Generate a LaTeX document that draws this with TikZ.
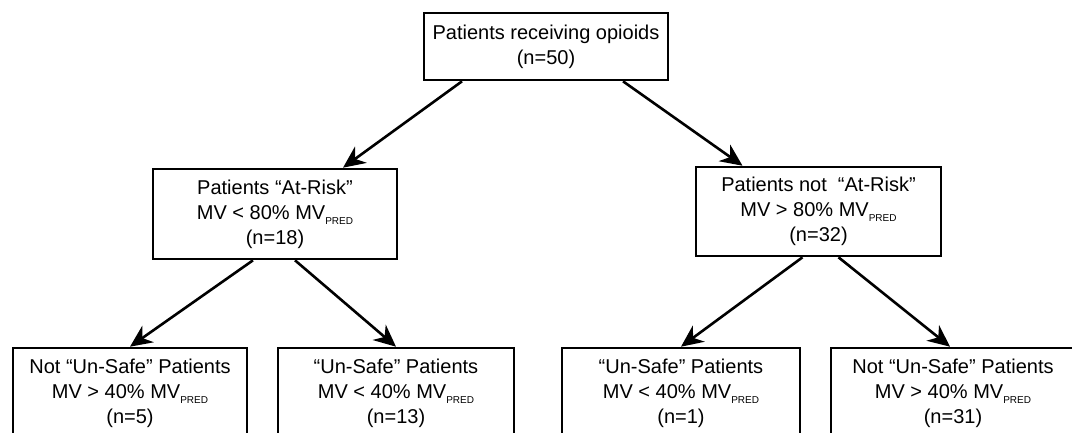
\documentclass[tikz,border=0pt]{standalone}
\usepackage{fontspec}
\setmainfont{Liberation Sans}
\usetikzlibrary{arrows.meta}
\newcommand{\predsub}{\raisebox{-5pt}{\fontsize{10}{10}\selectfont PRED}}
\begin{document}
\begin{tikzpicture}[x=1pt,y=-1pt,
  box/.style={draw, line width=2.6pt, align=center, inner sep=0pt,
    font=\fontsize{20}{25}\selectfont},
  arr/.style={line width=2.6pt, -{Stealth[length=22pt,width=20pt,inset=7pt]}}]
\useasboundingbox (0,0) rectangle (1072,433);
\clip (0,0) rectangle (1072,433);
\node[box, minimum width=244pt, minimum height=67pt] (top) at (546,46.5)
  {Patients receiving opioids\\(n=50)};
\node[box, minimum width=244pt, minimum height=90pt] (L) at (275,214)
  {Patients “At-Risk”\\MV < 80\% MV\predsub\\(n=18)};
\node[box, minimum width=245pt, minimum height=89pt] (R) at (818.5,211.5)
  {Patients not~ “At-Risk”\\MV > 80\% MV\predsub\\(n=32)};
\node[box, minimum width=234pt, minimum height=90pt] (B1) at (130,393)
  {Not “Un-Safe” Patients\\MV > 40\% MV\predsub\\(n=5)};
\node[box, minimum width=236pt, minimum height=90pt] (B2) at (396,393)
  {“Un-Safe” Patients\\MV < 40\% MV\predsub\\(n=13)};
\node[box, minimum width=238pt, minimum height=90pt] (B3) at (681,393)
  {“Un-Safe” Patients\\MV < 40\% MV\predsub\\(n=1)};
\node[box, minimum width=244pt, minimum height=90pt] (B4) at (953,393)
  {Not “Un-Safe” Patients\\MV > 40\% MV\predsub\\(n=31)};
\draw[arr] ([xshift=-84pt]top.south) -- ([xshift=68pt]L.north);
\draw[arr] ([xshift=77pt]top.south) -- ([xshift=-76pt]R.north);
\draw[arr] ([xshift=-22pt]L.south) -- (B1.north);
\draw[arr] ([xshift=20pt]L.south) -- (B2.north);
\draw[arr] ([xshift=-16pt]R.south) -- (B3.north);
\draw[arr] ([xshift=20pt]R.south) -- ([xshift=-3pt]B4.north);
\end{tikzpicture}
\end{document}
